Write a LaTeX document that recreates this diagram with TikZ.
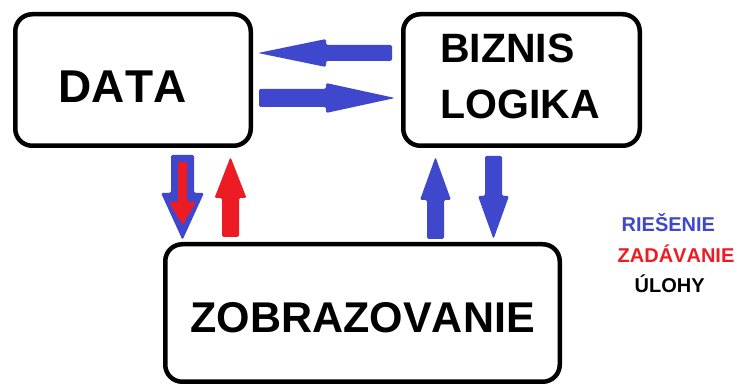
\documentclass[tikz,border=0pt]{standalone}
\usepackage{fontspec}
\setmainfont{Liberation Sans}[Kerning=Off]
\usetikzlibrary{calc}

\definecolor{paintblue}{RGB}{63,72,204}
\definecolor{paintred}{RGB}{237,28,36}

% Block arrow: #1 style, #2 tail, #3 tip, #4 shaft half-width, #5 head half-width, #6 head length
\newcommand\blockarrow[6]{%
  \coordinate (hb) at ($(#3)!#6!(#2)$);
  \fill[#1] ($(#2)!#4!90:(#3)$) -- ($(hb)!#4!-90:(#2)$) -- ($(hb)!#5!-90:(#2)$)
     -- (#3) -- ($(hb)!#5!90:(#2)$) -- ($(hb)!#4!90:(#2)$) -- ($(#2)!#4!-90:(#3)$) -- cycle;
}

\tikzset{
  box/.style={draw=black, line width=4.5pt, rounded corners=17pt, fill=white,
              inner sep=0pt, outer sep=0pt},
  bigtext/.style={inner sep=0pt, anchor=base west, font=\bfseries\fontsize{#1}{#1}\selectfont},
  legend/.style={inner sep=0pt, anchor=base west, font=\bfseries\fontsize{20}{20}\selectfont},
  bluearrow/.style={fill=paintblue, rounded corners=1.5pt},
  redarrow/.style={fill=paintred, rounded corners=1.5pt},
}

\begin{document}
\begin{tikzpicture}[x=1pt, y=1pt]
  \useasboundingbox (0,0) rectangle (737,385);
  \fill[white] (0,0) rectangle (737,385);

  % the three blocks
  \node[box, minimum width=235.5pt, minimum height=131.5pt] (data)  at (133,305) {};
  \node[box, minimum width=236.5pt, minimum height=131.5pt] (logic) at (521.5,305) {};
  \node[box, minimum width=394.5pt, minimum height=137.5pt] (view)  at (362.5,72) {};

  % block captions
  \node[bigtext=46] (datalabel)  at (58.5,282) {DATA};
  \node[bigtext=41] (logiclabel1) at (440,322) {BIZNIS};
  \node[bigtext=41] (logiclabel2) at (440,266) {LOGIKA};
  \node[bigtext=43] (viewlabel)  at (190.5,52) {ZOBRAZOVANIE};

  % arrow end points, tied to the blocks
  \coordinate (ldTail) at ($(logic.west)+(-11.25,27)$);
  \coordinate (ldTip)  at ($(data.east)+(7.25,27)$);
  \coordinate (dlTail) at ($(data.east)+(8.25,-18)$);
  \coordinate (dlTip)  at ($(logic.west)+(-8.25,-18)$);

  \coordinate (dvTail)  at ($(data.south)+(49.5,-9.25)$);
  \coordinate (dvTip)   at ($(view.north)+(-180,4.25)$);
  \coordinate (dvTailR) at ($(data.south)+(49.5,-16.25)$);
  \coordinate (dvTipR)  at ($(view.north)+(-180,19.25)$);

  \coordinate (vdTail) at ($(view.north)+(-132,7.25)$);
  \coordinate (vdTip)  at ($(data.south)+(97.5,-11.25)$);

  \coordinate (vlTail) at ($(view.north)+(73,5.25)$);
  \coordinate (vlTip)  at ($(logic.south)+(-86,-11.25)$);
  \coordinate (lvTail) at ($(logic.south)+(-28,-10.25)$);
  \coordinate (lvTip)  at ($(view.north)+(131,5.25)$);

  % arrows between DATA and BIZNIS LOGIKA
  \blockarrow{bluearrow}{ldTail}{ldTip}{8pt}{14pt}{68pt}
  \blockarrow{bluearrow}{dlTail}{dlTip}{9pt}{15pt}{69pt}

  % arrows between DATA and ZOBRAZOVANIE
  \blockarrow{bluearrow}{dvTail}{dvTip}{11.5pt}{21.5pt}{47pt}
  \blockarrow{redarrow}{dvTailR}{dvTipR}{4.5pt}{13.5pt}{23pt}
  \blockarrow{redarrow}{vdTail}{vdTip}{8.5pt}{16pt}{41pt}

  % arrows between ZOBRAZOVANIE and BIZNIS LOGIKA
  \blockarrow{bluearrow}{vlTail}{vlTip}{8.5pt}{15.5pt}{43pt}
  \blockarrow{bluearrow}{lvTail}{lvTip}{8.5pt}{15.5pt}{43pt}

  % legend
  \node[legend, text=paintblue] (leg1) at (621.5,153) {RIEŠENIE};
  \node[legend, text=paintred]  (leg2) at (617.5,122) {ZADÁVANIE};
  \node[legend, text=black]     (leg3) at (634.5,92)  {ÚLOHY};
\end{tikzpicture}
\end{document}
